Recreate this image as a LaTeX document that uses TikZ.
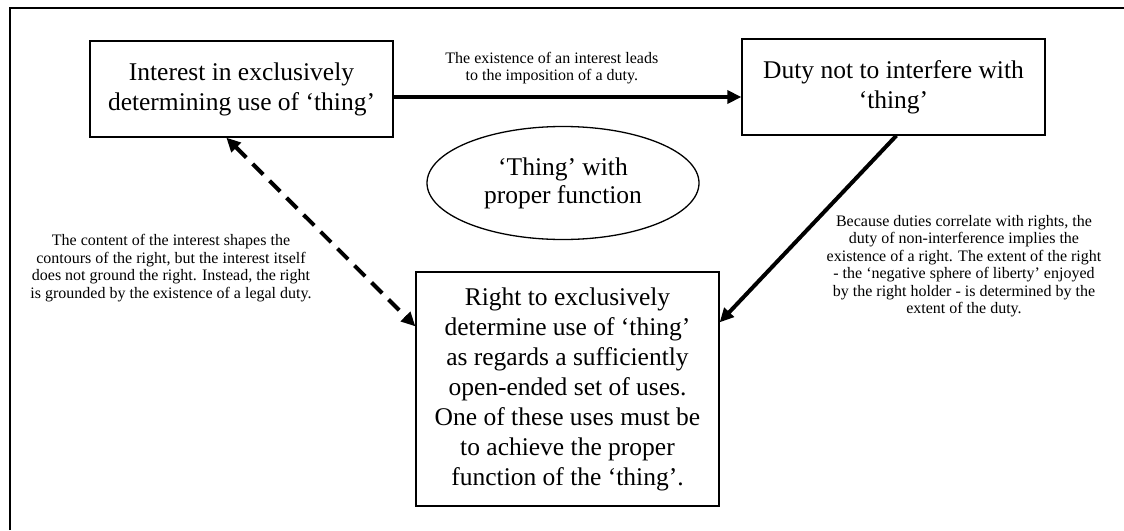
\documentclass[tikz,border=0pt]{standalone}
\usepackage{fontspec}
\setmainfont{Liberation Serif}
\usetikzlibrary{arrows.meta,shapes.geometric}
\begin{document}
\begin{tikzpicture}[x=1pt,y=-1pt,
  box/.style={draw,line width=1.3pt,minimum width=303pt,align=center,inner sep=0pt,font=\fontsize{25.5}{30}\selectfont},
  note/.style={align=center,inner sep=0pt,font=\fontsize{16}{17.5}\selectfont},
  link/.style={line width=4pt,-{Triangle[length=14pt,width=13pt]}}]
\useasboundingbox (0,0) rectangle (1124,530);
\draw[line width=2pt] (10,530) -- (10,7.5) -- (1124,7.5);
\node[box,minimum height=96pt] (interest) at (241.5,89) {Interest in exclusively\\determining use of ‘thing’};
\node[box,minimum height=96pt] (duty) at (893.5,87) {Duty not to interfere with\\‘thing’};
\node[draw,ellipse,line width=1.3pt,minimum width=272pt,minimum height=113pt,inner sep=0pt,align=center,font=\fontsize{25.5}{28}\selectfont] (thing) at (563,183) {‘Thing’ with\\proper function};
\node[box,minimum height=234pt] (right) at (567.5,389) {Right to exclusively\\determine use of ‘thing’\\as regards a sufficiently\\open-ended set of uses.\\One of these uses must be\\to achieve the proper\\function of the ‘thing’.};
\draw[link] ([yshift=-8pt]interest.east) -- ([yshift=-10pt]duty.west)
  node[note,above=11pt,pos=0.455] (exist) {The existence of an interest leads\\to the imposition of a duty.};
\draw[link,{Triangle[length=14pt,width=13pt]}-{Triangle[length=14pt,width=13pt]},dash pattern=on 15pt off 9pt] ([xshift=137pt]interest.south west) -- ([yshift=-55pt]right.north west);
\draw[link] ([xshift=155pt]duty.south west) -- ([yshift=-51pt]right.north east);
\node[note] (content) at (171,268) {The content of the interest shapes the\\contours of the right, but the interest itself\\does not ground the right. Instead, the right\\is grounded by the existence of a legal duty.};
\node[note] (correl) at (964,266) {Because duties correlate with rights, the\\duty of non-interference implies the\\existence of a right. The extent of the right\\- the ‘negative sphere of liberty’ enjoyed\\by the right holder - is determined by the\\extent of the duty.};
\end{tikzpicture}
\end{document}
